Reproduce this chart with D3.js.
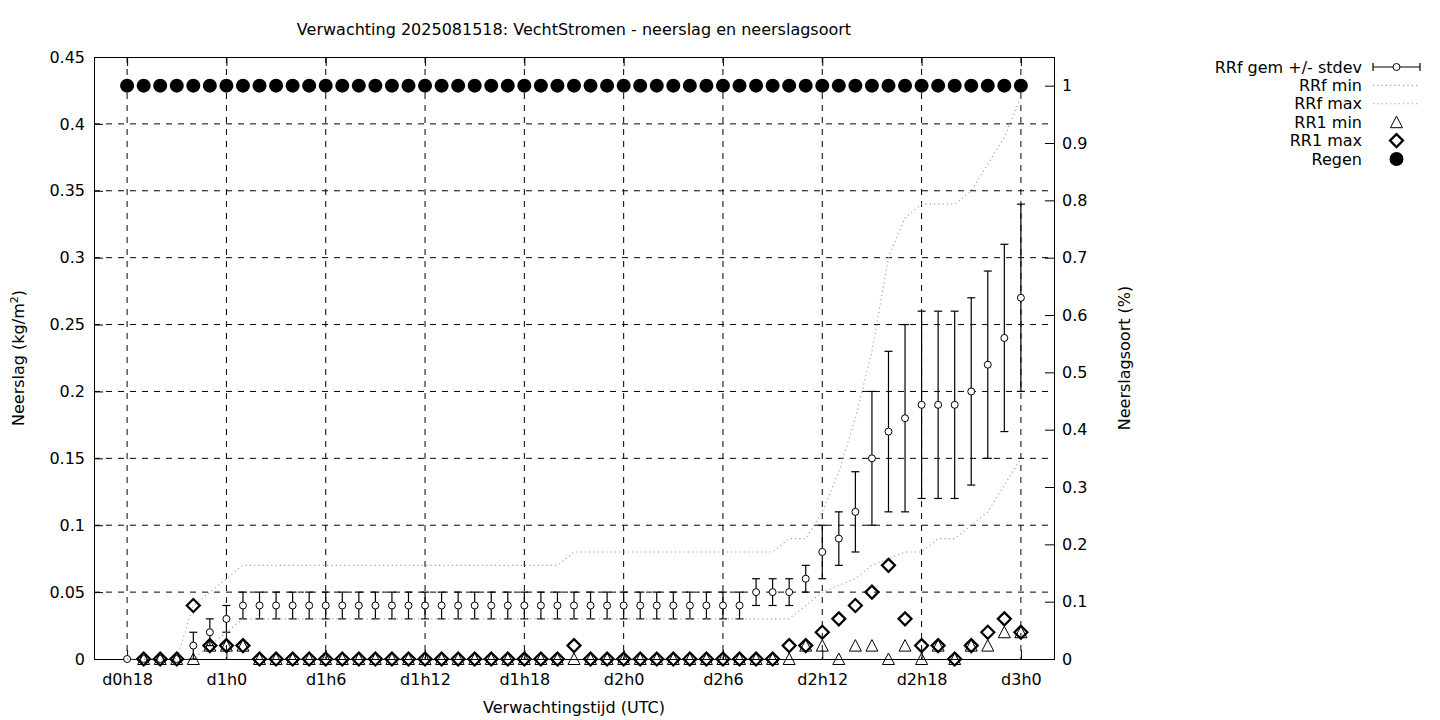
<!DOCTYPE html>
<html><head><meta charset="utf-8">
<script src="https://cdn.jsdelivr.net/npm/d3@7/dist/d3.min.js"></script>
<style>
body{margin:0;background:#fff}
text{font-family:"DejaVu Sans",sans-serif;font-size:16px;fill:#000}
</style>
</head><body>
<svg id="c" width="1440" height="720"></svg>
<script>
// ---- data ----
const hours = [18,19,20,21,22,23,24,25,26,27,28,29,30,31,32,33,34,35,36,37,38,39,40,41,42,43,44,45,46,47,48,49,50,51,52,53,54,55,56,57,58,59,60,61,62,63,64,65,66,67,68,69,70,71,72];
const rrfMean = [0,0,0,0,0.01,0.02,0.03,
  0.04,0.04,0.04,0.04,0.04,0.04,0.04,0.04,0.04,0.04,0.04,0.04,0.04,0.04,0.04,0.04,0.04,0.04,0.04,0.04,0.04,0.04,0.04,0.04,0.04,0.04,0.04,0.04,0.04,0.04,0.04,
  0.05,0.05,0.05,0.06,0.08,0.09,0.11,0.15,0.17,0.18,0.19,0.19,0.19,0.20,0.22,0.24,0.27];
const rrfStdev = [0,0,0,0,
  0.01,0.01,0.01,0.01,0.01,0.01,0.01,0.01,0.01,0.01,0.01,0.01,0.01,0.01,0.01,0.01,0.01,0.01,0.01,0.01,0.01,0.01,0.01,0.01,0.01,0.01,0.01,0.01,0.01,0.01,0.01,0.01,0.01,0.01,0.01,0.01,0.01,
  0.01,0.02,0.02,0.03,0.05,0.06,0.07,0.07,0.07,0.07,0.07,0.07,0.07,0.07];
const rrfMin = [0,0,0,0,0,0.01,0.02,
  0.03,0.03,0.03,0.03,0.03,0.03,0.03,0.03,0.03,0.03,0.03,0.03,0.03,0.03,0.03,0.03,0.03,0.03,0.03,0.03,0.03,0.03,0.03,0.03,0.03,0.03,0.03,0.03,0.03,0.03,0.03,0.03,0.03,0.03,
  0.04,0.05,0.055,0.06,0.07,0.075,0.08,0.08,0.09,0.09,0.10,0.11,0.13,0.15];
const rrfMax = [0,0,0,0,0.04,0.05,0.06,
  0.07,0.07,0.07,0.07,0.07,0.07,0.07,0.07,0.07,0.07,0.07,0.07,0.07,0.07,0.07,0.07,0.07,0.07,0.07,0.07,
  0.08,0.08,0.08,0.08,0.08,0.08,0.08,0.08,0.08,0.08,0.08,0.08,0.08,
  0.09,0.09,0.11,0.14,0.18,0.23,0.30,0.33,0.34,0.34,0.34,0.35,0.37,0.39,0.42];
const rr1Min = [null,0,0,0,0,0.01,0.01,0.01,
  0,0,0,0,0,0,0,0,0,0,0,0,0,0,0,0,0,0,0,0,0,0,0,0,0,0,0,0,0,0,0,0,0,
  0.01,0.01,0,0.01,0.01,0,0.01,0,0.01,0,0.01,0.01,0.02,0.02];
const rr1Max = [null,0,0,0,0.04,0.01,0.01,0.01,
  0,0,0,0,0,0,0,0,0,0,0,0,0,0,0,0,0,0,0,
  0.01,
  0,0,0,0,0,0,0,0,0,0,0,0,
  0.01,0.01,0.02,0.03,0.04,0.05,0.07,0.03,0.01,0.01,0,0.01,0.02,0.03,0.02];
const regen = [1,1,1,1,1,1,1,1,1,1,1,1,1,1,1,1,1,1,1,1,1,1,1,1,1,1,1,1,1,1,1,1,1,1,1,1,1,1,1,1,1,1,1,1,1,1,1,1,1,1,1,1,1,1,1];
const xTickValues = [18,24,30,36,42,48,54,60,66,72];
const xTickLabels = ["d0h18","d1h0","d1h6","d1h12","d1h18","d2h0","d2h6","d2h12","d2h18","d3h0"];
const yTickValues = [0,0.05,0.1,0.15,0.2,0.25,0.3,0.35,0.4,0.45];
const y2TickValues = [0,0.1,0.2,0.3,0.4,0.5,0.6,0.7,0.8,0.9,1];
const legendLabels = ["RRf gem +/- stdev","RRf min","RRf max","RR1 min","RR1 max","Regen"];
const titleText = "Verwachting 2025081518: VechtStromen - neerslag en neerslagsoort";

// ---- layout ----
const L=94, R=1054, T=57, B=659;
const svg = d3.select("#c");
const x = d3.scaleLinear().domain([16,74]).range([L,R]);
const y = d3.scaleLinear().domain([0,0.45]).range([B,T]);
const y2 = d3.scaleLinear().domain([0,1.05]).range([B,T]);
const fmt = d => String(+d.toFixed(2));

// grid
const grid = svg.append("g").attr("stroke","#000").attr("stroke-width",1).attr("stroke-dasharray","6,6");
grid.selectAll("line.v").data(xTickValues).join("line")
  .attr("x1",d=>x(d)).attr("x2",d=>x(d)).attr("y1",T).attr("y2",B);
grid.selectAll("line.h").data(yTickValues.slice(1,-1)).join("line")
  .attr("x1",L).attr("x2",R).attr("y1",d=>y(d)).attr("y2",d=>y(d));

// axes
const ax = svg.append("g").attr("transform",`translate(${L},0)`)
  .call(d3.axisLeft(y).tickValues(yTickValues).tickFormat(fmt).tickSize(-9).tickPadding(9));
const ax2 = svg.append("g").attr("transform",`translate(${R},0)`)
  .call(d3.axisRight(y2).tickValues(y2TickValues).tickFormat(fmt).tickSize(-9).tickPadding(8));
const axb = svg.append("g").attr("transform",`translate(0,${B})`)
  .call(d3.axisBottom(x).tickValues(xTickValues).tickFormat((d,i)=>xTickLabels[i]).tickSize(-9).tickPadding(15));
const axt = svg.append("g").attr("transform",`translate(0,${T})`)
  .call(d3.axisTop(x).tickValues(xTickValues).tickFormat("").tickSize(-9));
[ax,ax2,axb,axt].forEach(g=>{
  g.select(".domain").remove();
  g.selectAll("text").attr("font-size",16).attr("font-family","DejaVu Sans, sans-serif").attr("fill","#000");
  g.selectAll("line").attr("stroke","#000");
});

// border
svg.append("rect").attr("x",L+0.5).attr("y",T+0.5).attr("width",R-L).attr("height",B-T)
  .attr("fill","none").attr("stroke","#000").attr("stroke-width",1);

const plot = svg.append("g");

// error bars + mean
const eb = plot.append("g").attr("stroke","#000").attr("stroke-width",1.2);
hours.forEach((h,i)=>{
  const s = rrfStdev[i]; if(!s) return;
  const m = rrfMean[i], cx = x(h), y0 = y(m-s), y1 = y(m+s);
  eb.append("line").attr("x1",cx).attr("x2",cx).attr("y1",y0).attr("y2",y1);
  eb.append("line").attr("x1",cx-4).attr("x2",cx+4).attr("y1",y0).attr("y2",y0);
  eb.append("line").attr("x1",cx-4).attr("x2",cx+4).attr("y1",y1).attr("y2",y1);
});
plot.append("g").selectAll("circle").data(hours).join("circle")
  .attr("cx",d=>x(d)).attr("cy",(d,i)=>y(rrfMean[i])).attr("r",3.5)
  .attr("fill","#fff").attr("stroke","#000").attr("stroke-width",1);

// min / max dotted lines
const line = arr => d3.line().x(d=>x(d)).y((d,i)=>y(arr[i]))(hours);
[rrfMin, rrfMax].forEach(arr=>{
  plot.append("path").attr("d",line(arr)).attr("fill","none")
    .attr("stroke","#a0a0a0").attr("stroke-width",1.1).attr("stroke-dasharray","1.2,3.1");
});

// shapes
const tri = "M0,-6L6,5.5L-6,5.5Z";
const dia = "M0,-6.5L6.5,0L0,6.5L-6.5,0Z";
plot.append("g").selectAll("path").data(hours.filter((h,i)=>rr1Min[i]!==null)).join("path")
  .attr("d",tri).attr("transform",d=>`translate(${x(d)},${y(rr1Min[hours.indexOf(d)])})`)
  .attr("fill","none").attr("stroke","#000").attr("stroke-width",1);
plot.append("g").selectAll("path").data(hours.filter((h,i)=>rr1Max[i]!==null)).join("path")
  .attr("d",dia).attr("transform",d=>`translate(${x(d)},${y(rr1Max[hours.indexOf(d)])})`)
  .attr("fill","none").attr("stroke","#000").attr("stroke-width",2.2);
plot.append("g").selectAll("circle").data(hours).join("circle")
  .attr("cx",d=>x(d)).attr("cy",(d,i)=>y2(regen[i])).attr("r",7).attr("fill","#000");

// titles
svg.append("text").attr("x",574).attr("y",29).attr("dy","0.35em").attr("text-anchor","middle").text(titleText);
svg.append("text").attr("x",574).attr("y",707).attr("dy","0.35em").attr("text-anchor","middle").text("Verwachtingstijd (UTC)");
const yl = svg.append("text").attr("transform","translate(18,358) rotate(-90)").attr("dy","0.35em").attr("text-anchor","middle");
yl.append("tspan").text("Neerslag (kg/m");
yl.append("tspan").attr("dy",-6).attr("font-size",11).text("2");
yl.append("tspan").attr("dy",6).text(")");
svg.append("text").attr("transform","translate(1124,358) rotate(-90)").attr("dy","0.35em").attr("text-anchor","middle").text("Neerslagsoort (%)");

// legend
const lg = svg.append("g");
const ly = i => 67 + i*18.4;
legendLabels.forEach((t,i)=>{
  lg.append("text").attr("x",1362).attr("y",ly(i)).attr("dy","0.35em").attr("text-anchor","end").text(t);
});
const s0 = lg.append("g").attr("stroke","#000").attr("stroke-width",1.2);
s0.append("line").attr("x1",1373).attr("x2",1420).attr("y1",ly(0)).attr("y2",ly(0));
s0.append("line").attr("x1",1373).attr("x2",1373).attr("y1",ly(0)-4).attr("y2",ly(0)+4);
s0.append("line").attr("x1",1420).attr("x2",1420).attr("y1",ly(0)-4).attr("y2",ly(0)+4);
lg.append("circle").attr("cx",1396.5).attr("cy",ly(0)).attr("r",3.5).attr("fill","#fff").attr("stroke","#000");
[1,2].forEach(i=>lg.append("line").attr("x1",1373).attr("x2",1420).attr("y1",ly(i)).attr("y2",ly(i))
  .attr("stroke","#a0a0a0").attr("stroke-width",1.1).attr("stroke-dasharray","1.2,3.1"));
lg.append("path").attr("d",tri).attr("transform",`translate(1396.5,${ly(3)})`).attr("fill","none").attr("stroke","#000");
lg.append("path").attr("d",dia).attr("transform",`translate(1396.5,${ly(4)})`).attr("fill","none").attr("stroke","#000").attr("stroke-width",2.2);
lg.append("circle").attr("cx",1396.5).attr("cy",ly(5)).attr("r",7).attr("fill","#000");
</script>
</body></html>
